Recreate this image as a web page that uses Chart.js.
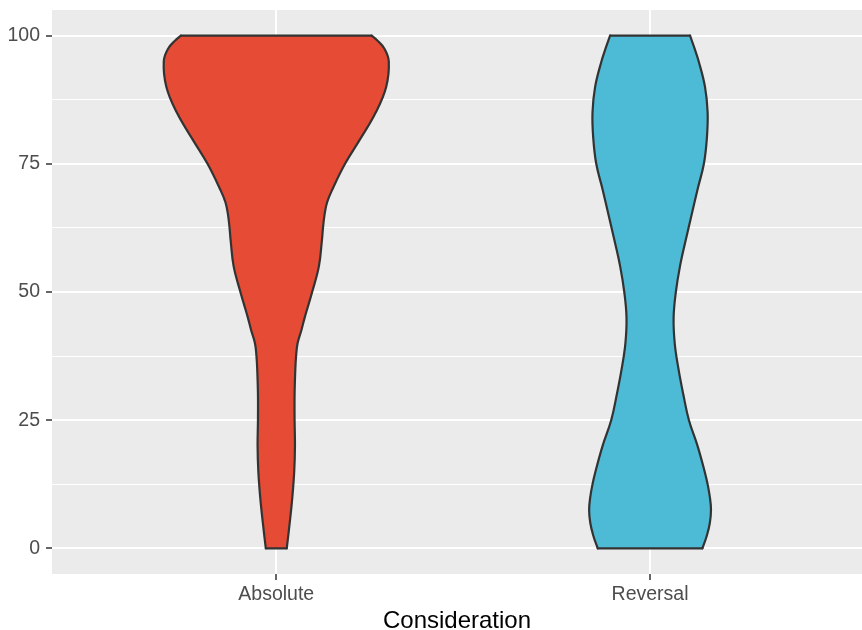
<!DOCTYPE html>
<html>
<head>
<meta charset="utf-8">
<script src="https://cdn.jsdelivr.net/npm/chart.js@4.4.0/dist/chart.umd.min.js"></script>
<style>
  html, body { margin: 0; padding: 0; background: #fff; }
  #wrap { width: 862px; height: 630px; }
</style>
</head>
<body>
<div id="wrap"><canvas id="violinChart" width="862" height="630"></canvas></div>
<script>
// categories on the x axis
const categories = ["Absolute", "Reversal"];
const yTicks = [0, 25, 50, 75, 100];
const yMinorTicks = [12.5, 37.5, 62.5, 87.5];

// violin half widths (x units, 1 = distance between categories) read at y levels
const absLevels = [0, 5, 10, 15, 20, 25, 30, 35, 37.5, 40, 42.5, 45, 47.5, 50, 55, 60, 62.5, 65, 67.5, 70, 75, 80, 85, 90, 95, 97.5, 99, 100];
const absHalfWidth = [0.028, 0.036, 0.043, 0.048, 0.050, 0.049, 0.049, 0.051, 0.053, 0.057, 0.067, 0.076, 0.086, 0.096, 0.114, 0.122, 0.125, 0.129, 0.136, 0.150, 0.184, 0.226, 0.266, 0.294, 0.301, 0.289, 0.271, 0.255];

const revLevels = [0, 2.5, 5, 7.5, 10, 12.5, 15, 20, 25, 30, 35, 40, 45, 50, 55, 60, 65, 70, 75, 80, 85, 90, 95, 97.5, 100];
const revHalfWidth = [0.140, 0.152, 0.160, 0.163, 0.160, 0.154, 0.146, 0.127, 0.104, 0.089, 0.076, 0.066, 0.063, 0.069, 0.080, 0.095, 0.111, 0.127, 0.144, 0.152, 0.154, 0.147, 0.130, 0.119, 0.107];

const fillColors = ["#E64B35", "#4DBBD5"];
const FONT = "'Liberation Sans', Arial, Helvetica, sans-serif";

function violinDatasets(pos, levels, halfWidth, color) {
  const left = levels.map((v, i) => ({ x: pos - halfWidth[i], y: v }));
  const right = levels.map((v, i) => ({ x: pos + halfWidth[i], y: v }));
  const last = levels.length - 1;
  const edge = {
    borderColor: "#333333",
    borderWidth: 2.2,
    pointRadius: 0,
    fill: false,
    tension: 0,
    borderCapStyle: "round",
    borderJoinStyle: "round",
  };
  return [
    { ...edge, data: left, fill: "+1", backgroundColor: color, tension: 0.4 },
    { ...edge, data: right, tension: 0.4 },
    { ...edge, data: [left[last], right[last]] },
    { ...edge, data: [left[0], right[0]] },
  ];
}

const panelBg = {
  id: "panelBg",
  beforeDraw(chart) {
    const { ctx, chartArea: a } = chart;
    ctx.save();
    ctx.fillStyle = "#EBEBEB";
    ctx.fillRect(a.left, a.top, a.right - a.left, a.bottom - a.top);
    ctx.restore();
  },
};

const isMajor = (ctx) => ctx.tick && yTicks.includes(ctx.tick.value);

new Chart(document.getElementById("violinChart"), {
  type: "line",
  data: {
    datasets: [
      ...violinDatasets(1, absLevels, absHalfWidth, fillColors[0]),
      ...violinDatasets(2, revLevels, revHalfWidth, fillColors[1]),
    ],
  },
  options: {
    indexAxis: "y",
    responsive: false,
    animation: false,
    devicePixelRatio: 1,
    layout: { padding: { top: 10, left: 0, right: 0, bottom: 0 } },
    plugins: {
      legend: { display: false },
      tooltip: { enabled: false },
      filler: { propagate: false, drawTime: "beforeDatasetsDraw" },
    },
    scales: {
      x: {
        type: "linear",
        position: "bottom",
        min: 0.4,
        max: 2.567,
        border: { display: false },
        grid: { color: "#FFFFFF", lineWidth: 2, tickLength: 6, tickColor: "#333333", tickWidth: 1.5 },
        ticks: {
          color: "#4D4D4D",
          font: { family: FONT, size: 19.5 },
          padding: 3,
          autoSkip: false,
          maxRotation: 0,
          callback: (v) => categories[v - 1] || "",
        },
        title: {
          display: true,
          text: "Consideration",
          color: "#000000",
          font: { family: FONT, size: 24, lineHeight: 1 },
          padding: { top: 0, bottom: -3 },
        },
        afterBuildTicks: (s) => { s.ticks = categories.map((c, i) => ({ value: i + 1 })); },
        afterFit: (s) => { s.height = 56; s.paddingLeft = 0; s.paddingRight = 0; },
      },
      y: {
        type: "linear",
        min: -5,
        max: 105,
        border: { display: false },
        grid: {
          color: "#FFFFFF",
          lineWidth: (ctx) => (isMajor(ctx) ? 2 : 1),
          tickLength: 6,
          tickWidth: 1.5,
          tickColor: (ctx) => (isMajor(ctx) ? "#333333" : "rgba(0,0,0,0)"),
        },
        ticks: {
          color: "#4D4D4D",
          font: { family: FONT, size: 19.5 },
          padding: 6,
          autoSkip: false,
          callback: (v) => (yTicks.includes(v) ? String(v) : ""),
        },
        afterBuildTicks: (s) => {
          s.ticks = yTicks.concat(yMinorTicks).sort((a, b) => a - b).map((v) => ({ value: v }));
        },
        afterFit: (s) => { s.width = 52; s.paddingTop = 0; s.paddingBottom = 0; },
      },
    },
  },
  plugins: [panelBg],
});
</script>
</body>
</html>
